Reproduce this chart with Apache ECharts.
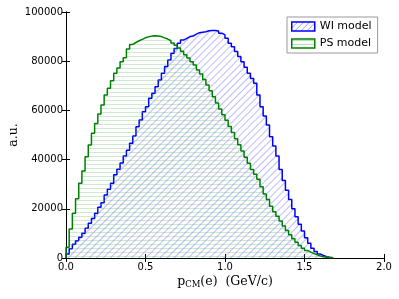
<!DOCTYPE html>
<html>
<head>
<meta charset="utf-8">
<script src="https://cdn.jsdelivr.net/npm/echarts@6/dist/echarts.min.js"></script>
<style>html,body{margin:0;padding:0;background:#fff}#c{width:399px;height:299px}</style>
</head>
<body>
<div id="c"></div>
<script>
// Histogram bin width (GeV/c) and bin contents
const binWidth = 0.02;
const seriesNames = ['WI model', 'PS model'];
const xTicks = [0.0, 0.5, 1.0, 1.5, 2.0];
const yTicks = [0, 20000, 40000, 60000, 80000, 100000];

const wiCounts = [
  1600, 3800, 5600, 7000, 8400, 10100, 12100, 14100, 16100, 18200,
  20600, 22500, 25600, 27900, 30400, 33800, 36100, 38600, 41500, 43800,
  46600, 49600, 53400, 56100, 59500, 61500, 64900, 67000, 69600, 72400,
  75100, 77800, 80500, 83200, 85200, 87300, 88600, 89300, 90000, 90200,
  91000, 91600, 91800, 92000, 92400, 92500, 92500, 92300, 91400, 90700,
  89300, 87300, 85900, 83900, 81900, 79800, 77500, 75100, 73000, 71000,
  66300, 61500, 57700, 54100, 49300, 45500, 41500, 36000, 31500, 27500,
  23800, 20000, 16800, 13700, 11000, 8200, 6000, 4000, 2600, 1600,
  1000, 550, 300, 120
];

const psCounts = [
  4400, 11800, 18200, 24100, 30400, 35400, 41200, 45900, 50700, 54700,
  58500, 62200, 66300, 69000, 72100, 75100, 77200, 79800, 81400, 85000,
  86800, 87600, 88300, 88900, 89500, 89900, 90200, 90300, 90200, 90000,
  89500, 89000, 88300, 87400, 86500, 85400, 84000, 82600, 81300, 79800,
  78500, 76400, 74800, 72600, 70300, 68000, 65500, 63000, 60600, 58200,
  56000, 53500, 51000, 48500, 46000, 43500, 41000, 38500, 36000, 34000,
  32000, 29000, 26000, 23800, 21000, 18800, 17000, 15000, 13000, 11200,
  9500, 7800, 6400, 5100, 4000, 3000, 2400, 1800, 1300, 800,
  500, 300, 150, 60
];

function stepData(counts) {
  const d = [[0, 0]];
  counts.forEach((v, i) => d.push([i * binWidth, v]));
  d.push([counts.length * binWidth, 0]);
  return d;
}

function hatch(kind, color) {
  const c = document.createElement('canvas');
  const ctx = c.getContext('2d');
  if (kind === 'diag') {
    const s = 6;
    c.width = s; c.height = s;
    ctx.strokeStyle = color; ctx.lineWidth = 1;
    ctx.beginPath();
    ctx.moveTo(-1, s + 1); ctx.lineTo(s + 1, -1);
    ctx.moveTo(-1, 1); ctx.lineTo(1, -1);
    ctx.moveTo(s - 1, s + 1); ctx.lineTo(s + 1, s - 1);
    ctx.stroke();
  } else {
    c.width = 4; c.height = 4;
    ctx.fillStyle = color;
    ctx.fillRect(0, 1, 4, 1);
  }
  return c.toDataURL();
}

const blueHatch = hatch('diag', '#9e9eff');
const greenHatch = hatch('horiz', '#b8e0b8');

const blueDecal = {symbol: 'rect', symbolSize: 1, color: 'rgba(90,90,255,0.4)',
  dashArrayX: [1, 0], dashArrayY: [1, 3.2], rotation: -Math.PI / 4, maxTileWidth: 256, maxTileHeight: 256};
const greenDecal = {symbol: 'rect', symbolSize: 1, color: 'rgba(80,180,80,0.28)',
  dashArrayX: [1, 0], dashArrayY: [1, 3], rotation: 0, maxTileWidth: 256, maxTileHeight: 256};

const chart = echarts.init(document.getElementById('c'), null, {renderer: 'canvas'});

const tickFont = {fontFamily: 'DejaVu Sans', fontSize: 10, color: '#000'};

chart.setOption({
  animation: false,
  grid: {left: 66, right: 15, top: 12, bottom: 41, containLabel: false, outerBoundsMode: 'none'},
  legend: {
    orient: 'vertical',
    left: 287, top: 17,
    itemWidth: 23, itemHeight: 9, itemGap: 6,
    padding: [4, 6, 4, 4],
    backgroundColor: '#fff',
    borderColor: '#999', borderWidth: 1,
    textStyle: {fontFamily: 'DejaVu Sans', fontSize: 11, color: '#000'},
    icon: 'rect',
    data: [
      {name: seriesNames[0], itemStyle: {color: {image: blueHatch, repeat: 'repeat'}, borderColor: '#0000ff', borderWidth: 1.5, decal: 'none'}},
      {name: seriesNames[1], itemStyle: {color: {image: greenHatch, repeat: 'repeat'}, borderColor: '#008000', borderWidth: 1.5, decal: 'none'}}
    ]
  },
  xAxis: [{
    type: 'value', min: xTicks[0], max: xTicks[xTicks.length - 1], interval: 0.5,
    position: 'bottom',
    axisLine: {lineStyle: {color: '#000', width: 1}},
    axisTick: {inside: true, length: 4, lineStyle: {color: '#000'}},
    axisLabel: Object.assign({margin: 4, formatter: v => v.toFixed(1)}, tickFont),
    splitLine: {show: false},
    name: '{a|p}{b|CM}{a|(e)  (GeV/c)}',
    nameLocation: 'middle', nameGap: 16, nameMoveOverlap: false,
    nameTextStyle: {
      rich: {
        a: {fontFamily: 'DejaVu Serif', fontSize: 12.5, color: '#000', lineHeight: 16},
        b: {fontFamily: 'DejaVu Serif', fontSize: 8.5, color: '#000', lineHeight: 16, padding: [6, 0, 0, 0]}
      }
    }
  }, {
    type: 'value', min: xTicks[0], max: xTicks[xTicks.length - 1], interval: 0.5,
    position: 'top',
    axisLine: {lineStyle: {color: '#000', width: 1}},
    axisTick: {inside: true, length: 4, lineStyle: {color: '#000'}},
    axisLabel: {show: false},
    splitLine: {show: false}
  }],
  yAxis: [{
    type: 'value', min: yTicks[0], max: yTicks[yTicks.length - 1], interval: 20000,
    position: 'left',
    axisLine: {show: true, lineStyle: {color: '#000', width: 1}},
    axisTick: {show: true, inside: true, length: 4, lineStyle: {color: '#000'}},
    axisLabel: Object.assign({margin: 3, formatter: v => String(v)}, tickFont),
    splitLine: {show: false},
    name: 'a.u.',
    nameLocation: 'middle', nameGap: 46, nameRotate: 90, nameMoveOverlap: false,
    nameTextStyle: {fontFamily: 'DejaVu Serif', fontSize: 12.5, color: '#000'}
  }, {
    type: 'value', min: yTicks[0], max: yTicks[yTicks.length - 1], interval: 20000,
    position: 'right',
    axisLine: {show: true, lineStyle: {color: '#000', width: 1}},
    axisTick: {show: true, inside: true, length: 4, lineStyle: {color: '#000'}},
    axisLabel: {show: false},
    splitLine: {show: false}
  }],
  series: [{
    name: seriesNames[0], type: 'line', step: 'end', showSymbol: false, symbol: 'none',
    data: stepData(wiCounts),
    lineStyle: {color: '#0000ff', width: 1.5},
    itemStyle: {color: '#0000ff', decal: blueDecal},
    areaStyle: {color: 'rgba(255,255,255,0)', opacity: 1},
    z: 2
  }, {
    name: seriesNames[1], type: 'line', step: 'end', showSymbol: false, symbol: 'none',
    data: stepData(psCounts),
    lineStyle: {color: '#008000', width: 1.5},
    itemStyle: {color: '#008000', decal: greenDecal},
    areaStyle: {color: 'rgba(255,255,255,0)', opacity: 1},
    z: 3
  }]
});
</script>
</body>
</html>
